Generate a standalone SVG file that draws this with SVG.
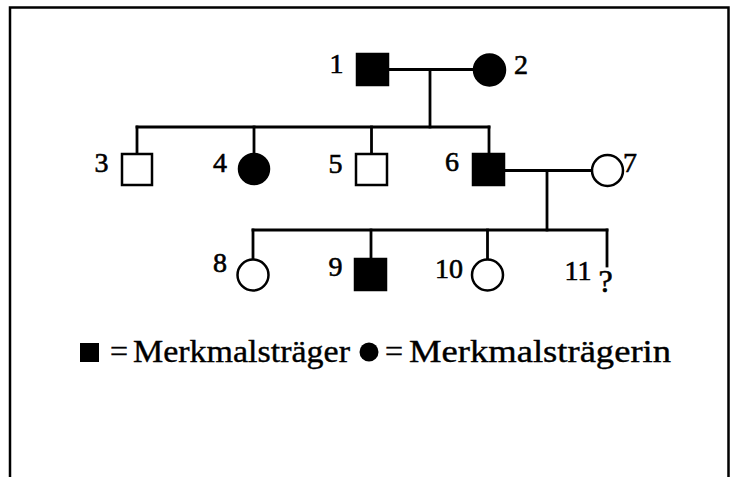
<svg xmlns="http://www.w3.org/2000/svg" width="731" height="477" viewBox="0 0 731 477">
  <style>
    .bg { fill: #ffffff; }
    .frame { fill: none; stroke: #000000; stroke-width: 2.5; }
    .line { fill: none; stroke: #000000; stroke-width: 2.8; stroke-linecap: square; }
    .open { fill: #ffffff; stroke: #000000; stroke-width: 2.5; }
    .filled { fill: #000000; stroke: #000000; stroke-width: 2.5; }
    .num { font-family: "Liberation Serif", "Times New Roman", serif; font-size: 28px; fill: #000000; stroke: #000000; stroke-width: 0.6; text-anchor: middle; }
    .legend { font-family: "Liberation Serif", "Times New Roman", serif; font-size: 32px; fill: #000000; stroke: #000000; stroke-width: 0.4; }
  </style>

  <rect class="bg" x="0" y="0" width="731" height="477"/>
  <!-- open frame: top, left and right edges only -->
  <path class="frame" d="M10,480 V7.5 H728.5 V480"/>

  <!-- lines of descent and partnership -->
  <g id="connectors">
    <line class="line" x1="388" y1="69.5" x2="474" y2="69.5"/>
    <line class="line" x1="430" y1="69.5" x2="430" y2="127"/>
    <line class="line" x1="137" y1="127" x2="489" y2="127"/>
    <line class="line" x1="137" y1="127" x2="137" y2="154"/>
    <line class="line" x1="254" y1="127" x2="254" y2="154"/>
    <line class="line" x1="371.5" y1="127" x2="371.5" y2="154"/>
    <line class="line" x1="489" y1="127" x2="489" y2="154"/>
    <line class="line" x1="504" y1="170.5" x2="592" y2="170.5"/>
    <line class="line" x1="547" y1="170.5" x2="547" y2="230"/>
    <line class="line" x1="253" y1="230" x2="607" y2="230"/>
    <line class="line" x1="253" y1="230" x2="253" y2="259.5"/>
    <line class="line" x1="371" y1="230" x2="371" y2="259"/>
    <line class="line" x1="487.5" y1="230" x2="487.5" y2="259.5"/>
    <line class="line" x1="607" y1="230" x2="607" y2="266"/>
  </g>

  <g id="n1">
    <rect class="filled" x="357" y="54" width="31" height="31"/>
    <text class="num" x="336.5" y="73">1</text>
  </g>
  <g id="n2">
    <circle class="filled" cx="489.5" cy="70" r="15.5"/>
    <text class="num" x="521" y="74">2</text>
  </g>
  <g id="n3">
    <rect class="open" x="122" y="154" width="30" height="31"/>
    <text class="num" x="101.5" y="172">3</text>
  </g>
  <g id="n4">
    <circle class="filled" cx="254" cy="169" r="15"/>
    <text class="num" x="220" y="172">4</text>
  </g>
  <g id="n5">
    <rect class="open" x="356" y="154" width="31" height="31"/>
    <text class="num" x="335.5" y="173">5</text>
  </g>
  <g id="n6">
    <rect class="filled" x="473" y="154" width="31" height="31"/>
    <text class="num" x="452" y="171">6</text>
  </g>
  <g id="n7">
    <circle class="open" cx="607.5" cy="170.5" r="15.5"/>
    <text class="num" x="630" y="172">7</text>
  </g>
  <g id="n8">
    <circle class="open" cx="253" cy="275" r="15.5"/>
    <text class="num" x="220" y="272">8</text>
  </g>
  <g id="n9">
    <rect class="filled" x="355" y="259" width="31" height="31"/>
    <text class="num" x="335.5" y="276">9</text>
  </g>
  <g id="n10">
    <circle class="open" cx="487.5" cy="275" r="15.5"/>
    <text class="num" x="449" y="278">10</text>
  </g>
  <g id="n11">
    <text class="num" x="578" y="280">11</text>
    <text class="num" x="605.5" y="292" style="font-size:32px">?</text>
  </g>

  <!-- key -->
  <g id="legend">
    <rect x="80" y="343" width="19" height="19" fill="#000000"/>
    <text class="legend" x="119" y="362" text-anchor="middle">=</text>
    <text class="legend" x="133" y="362" textLength="217" lengthAdjust="spacingAndGlyphs">Merkmalsträger</text>
    <circle cx="369" cy="352" r="9.5" fill="#000000"/>
    <text class="legend" x="394" y="362" text-anchor="middle">=</text>
    <text class="legend" x="409" y="362" textLength="262" lengthAdjust="spacingAndGlyphs">Merkmalsträgerin</text>
  </g>
</svg>
